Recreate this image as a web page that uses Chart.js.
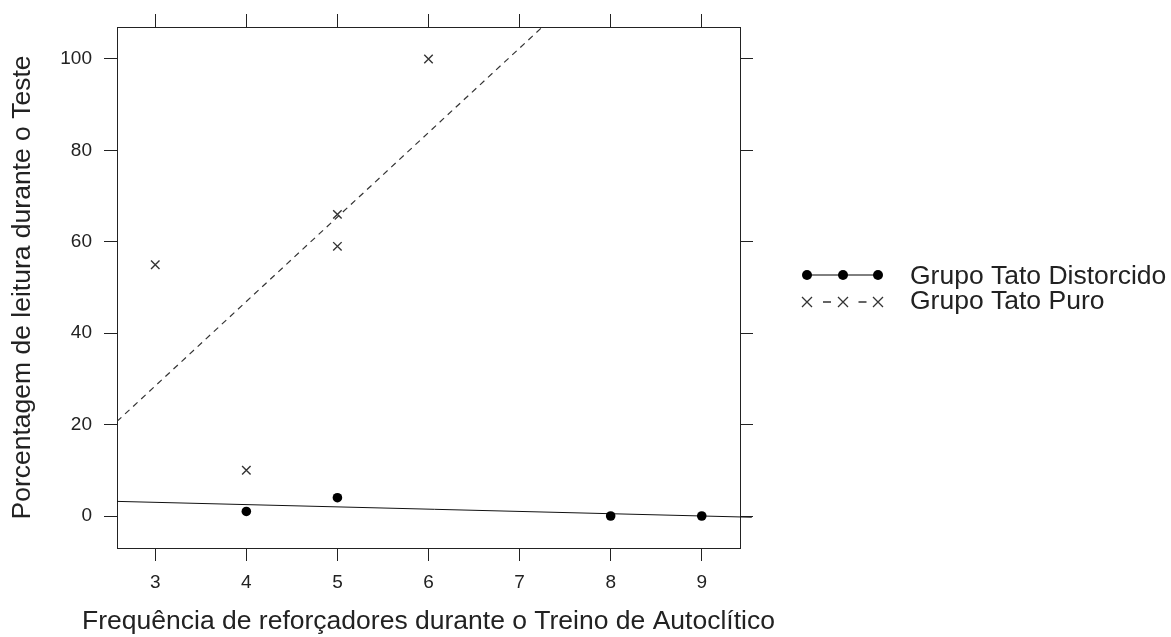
<!DOCTYPE html>
<html>
<head>
<meta charset="utf-8">
<script src="https://cdn.jsdelivr.net/npm/chart.js@4.4.1/dist/chart.umd.min.js"></script>
<style>
  body { margin: 0; background: #fff; }
</style>
</head>
<body>
<canvas id="chart" width="1171" height="637"></canvas>
<script>
// data
const seriesNames = ['Grupo Tato Distorcido', 'Grupo Tato Puro'];
const distorcidoX = [4, 5, 8, 9];
const distorcidoY = [1, 4, 0, 0];
const puroX = [3, 4, 5, 5, 6];
const puroY = [55, 10, 66, 59, 100];
// fitted lines (end points as seen in the picture)
const distorcidoFitX = [2.58, 9.55];
const distorcidoFitY = [3.2, -0.27];
const puroFitX = [2.58, 7.25];
const puroFitY = [20.7, 107];
const xTicks = [3, 4, 5, 6, 7, 8, 9];
const yTicks = [0, 20, 40, 60, 80, 100];
const xTitle = 'Frequência de reforçadores durante o Treino de Autoclítico';
const yTitle = 'Porcentagem de leitura durante o Teste';

const toPoints = (xs, ys) => xs.map((x, i) => ({ x: x, y: ys[i] }));

const FONT = "'Liberation Sans', Arial, sans-serif";
const INK = '#222';

// box style axes: ticks on all four sides
function axis(pos, show, tickVals, min, max, size) {
    return {
        type: 'linear',
        position: pos,
        min: min,
        max: max,
        afterBuildTicks: s => { s.ticks = tickVals.map(v => ({ value: v })); },
        afterFit: s => {
            if (pos === 'left' || pos === 'right') s.width = size;
            else s.height = size;
        },
        grid: { drawOnChartArea: false, drawTicks: true, tickLength: 13, tickColor: INK, color: INK },
        border: { display: true, color: INK, width: 1 },
        ticks: {
            display: show,
            color: INK,
            font: { family: FONT, size: 19 },
            padding: pos === 'left' ? 12 : 10,
            maxRotation: 0
        }
    };
}

const xScale = axis('bottom', true, xTicks, 2.58, 9.42, 89);
const yScale = axis('left', true, yTicks, -7, 107, 117);
yScale.title = {
    display: true,
    text: yTitle,
    color: INK,
    font: { family: FONT, size: 26.5 },
    padding: { top: 7, bottom: 4 }
};
const x2Scale = axis('top', false, xTicks, 2.58, 9.42, 27);
const y2Scale = axis('right', false, yTicks, -7, 107, 431);

// x title is wider than the panel, so draw it without the maxWidth squeeze
const xTitlePlugin = {
    id: 'xTitle',
    afterDraw(chart) {
        const ctx = chart.ctx;
        const a = chart.chartArea;
        ctx.save();
        ctx.fillStyle = INK;
        ctx.font = '26.5px ' + FONT;
        ctx.textAlign = 'center';
        ctx.textBaseline = 'middle';
        ctx.fillText(xTitle, (a.left + a.right) / 2, 622);
        ctx.restore();
    }
};

// custom legend: three symbols joined by line, then the label
const legendPlugin = {
    id: 'latticeLegend',
    afterDraw(chart) {
        const ctx = chart.ctx;
        const xs = [807, 843, 878];
        const rows = [275, 302];
        ctx.save();
        // row 1: solid line with dots
        ctx.strokeStyle = '#000';
        ctx.lineWidth = 1;
        ctx.beginPath();
        ctx.moveTo(xs[0], rows[0]);
        ctx.lineTo(xs[2], rows[0]);
        ctx.stroke();
        ctx.fillStyle = '#000';
        xs.forEach(x => {
            ctx.beginPath();
            ctx.arc(x, rows[0], 5, 0, Math.PI * 2);
            ctx.fill();
        });
        // row 2: short dashes between the crosses
        ctx.strokeStyle = '#333';
        ctx.lineWidth = 1.3;
        ctx.beginPath();
        for (let i = 0; i < xs.length - 1; i++) {
            const m = (xs[i] + xs[i + 1]) / 2;
            ctx.moveTo(m - 2, rows[1]);
            ctx.lineTo(m + 6, rows[1]);
        }
        ctx.stroke();
        xs.forEach(x => {
            const r = 5;
            ctx.beginPath();
            ctx.moveTo(x - r, rows[1] - r);
            ctx.lineTo(x + r, rows[1] + r);
            ctx.moveTo(x - r, rows[1] + r);
            ctx.lineTo(x + r, rows[1] - r);
            ctx.stroke();
        });
        ctx.fillStyle = INK;
        ctx.font = '26.5px ' + FONT;
        ctx.textBaseline = 'middle';
        ctx.fillText(seriesNames[0], 910, 277);
        ctx.fillText(seriesNames[1], 910, 302);
        ctx.restore();
    }
};

new Chart(document.getElementById('chart'), {
    type: 'scatter',
    data: {
        datasets: [
            {
                label: seriesNames[0],
                data: toPoints(distorcidoX, distorcidoY),
                pointStyle: 'circle',
                pointRadius: 4.8,
                backgroundColor: '#000',
                borderColor: '#000',
                borderWidth: 0
            },
            {
                label: seriesNames[1],
                data: toPoints(puroX, puroY),
                pointStyle: 'crossRot',
                pointRadius: 6,
                borderColor: '#333',
                borderWidth: 1.4
            },
            {
                label: seriesNames[0] + ' (ajuste)',
                data: toPoints(distorcidoFitX, distorcidoFitY),
                showLine: true,
                pointRadius: 0,
                borderColor: '#111',
                borderWidth: 1,
                clip: false
            },
            {
                label: seriesNames[1] + ' (ajuste)',
                data: toPoints(puroFitX, puroFitY),
                showLine: true,
                pointRadius: 0,
                borderColor: '#333',
                borderWidth: 1.2,
                borderDash: [6, 5]
            }
        ]
    },
    options: {
        responsive: false,
        animation: false,
        layout: { padding: 0 },
        plugins: {
            legend: { display: false },
            tooltip: { enabled: false }
        },
        scales: { x: xScale, y: yScale, x2: x2Scale, y2: y2Scale }
    },
    plugins: [xTitlePlugin, legendPlugin]
});
</script>
</body>
</html>
